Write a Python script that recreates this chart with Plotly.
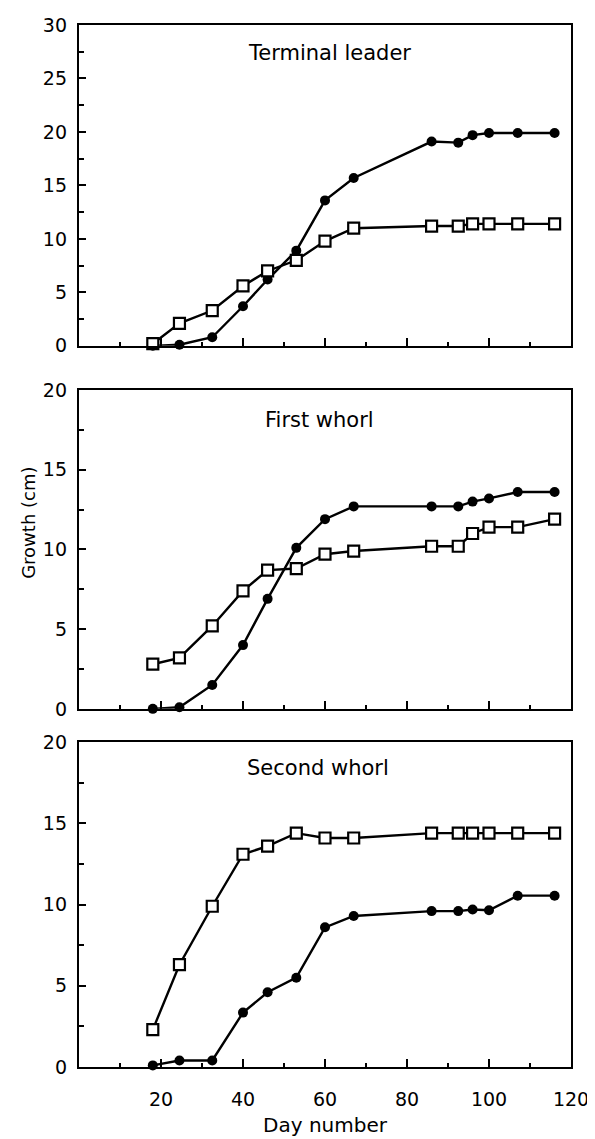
import plotly.graph_objects as go

# ---- data ----
days = [18, 24.5, 32.5, 40, 46, 53, 60, 67, 86, 92.5, 96, 100, 107, 116]

leader_filled = [0, 0.1, 0.8, 3.7, 6.2, 8.9, 13.6, 15.7, 19.1, 19.0, 19.7, 19.9, 19.9, 19.9]
leader_open = [0.2, 2.1, 3.3, 5.6, 7.0, 8.0, 9.8, 11.0, 11.2, 11.2, 11.4, 11.4, 11.4, 11.4]

first_filled = [0, 0.1, 1.5, 4.0, 6.9, 10.1, 11.9, 12.7, 12.7, 12.7, 13.0, 13.2, 13.6, 13.6]
first_open = [2.8, 3.2, 5.2, 7.4, 8.7, 8.8, 9.7, 9.9, 10.2, 10.2, 11.0, 11.4, 11.4, 11.9]

second_filled = [0.1, 0.4, 0.4, 3.35, 4.6, 5.5, 8.6, 9.3, 9.6, 9.6, 9.7, 9.65, 10.55, 10.55]
second_open = [2.3, 6.3, 9.9, 13.1, 13.6, 14.4, 14.1, 14.1, 14.4, 14.4, 14.4, 14.4, 14.4, 14.4]

panel_titles = ["Terminal leader", "First whorl", "Second whorl"]
y_max = [30, 20, 20]
x_ticks = [20, 40, 60, 80, 100, 120]

FONT = "DejaVu Sans"
TICK_SIZE = 19
panels = [(leader_filled, leader_open), (first_filled, first_open), (second_filled, second_open)]
domains = [[0.6921, 1.0], [0.3437, 0.6497], [0.0, 0.3117]]
title_pos = [(61, 27.4), (58.7, 18.1), (58.4, 18.4)]

fig = go.Figure()
for i, (filled, opened) in enumerate(panels):
    xa = "x" if i == 0 else f"x{i+1}"
    ya = "y" if i == 0 else f"y{i+1}"
    fig.add_trace(go.Scatter(
        x=days, y=filled, xaxis=xa, yaxis=ya, mode="lines+markers",
        line=dict(color="black", width=2.4),
        marker=dict(symbol="circle", size=10, color="black"),
        cliponaxis=False, showlegend=False))
    fig.add_trace(go.Scatter(
        x=days, y=opened, xaxis=xa, yaxis=ya, mode="lines+markers",
        line=dict(color="black", width=2.4),
        marker=dict(symbol="square", size=11, color="white",
                    line=dict(color="black", width=2.2)),
        cliponaxis=False, showlegend=False))

# page body has an 8px default margin, so the figure is sized to fit inside it
layout = dict(
    width=587, height=1131,
    margin=dict(l=71, r=17, t=6, b=63),
    paper_bgcolor="white", plot_bgcolor="white",
    font=dict(family=FONT, size=TICK_SIZE, color="black"),
)
for i in range(3):
    xk = "xaxis" if i == 0 else f"xaxis{i+1}"
    yk = "yaxis" if i == 0 else f"yaxis{i+1}"
    ya = "y" if i == 0 else f"y{i+1}"
    xa = "x" if i == 0 else f"x{i+1}"
    layout[xk] = dict(
        domain=[0, 1], anchor=ya, range=[0, 120],
        tickvals=x_ticks, ticks="inside", ticklen=8, tickwidth=1.8, tickcolor="black",
        minor=dict(dtick=10, tick0=0, ticks="inside", ticklen=4, tickwidth=1.8, tickcolor="black"),
        showticklabels=(i == 2), ticklabelstandoff=14, ticklabeloverflow="allow",
        showline=True, linecolor="black", linewidth=2.4, mirror=True,
        showgrid=False, zeroline=False,
        tickfont=dict(family=FONT, size=TICK_SIZE, color="black"),
    )
    layout[yk] = dict(
        domain=domains[i], anchor=xa, range=[0, y_max[i]],
        tickvals=list(range(0, y_max[i] + 1, 5)),
        ticks="inside", ticklen=7, tickwidth=1.8, tickcolor="black",
        minor=dict(dtick=2.5, tick0=0, ticks="inside", ticklen=5, tickwidth=1.8, tickcolor="black"),
        ticklabelstandoff=6,
        showline=True, linecolor="black", linewidth=2.4, mirror=True,
        showgrid=False, zeroline=False,
        tickfont=dict(family=FONT, size=TICK_SIZE, color="black"),
    )
layout["xaxis3"]["title"] = dict(text="Day number", font=dict(family=FONT, size=20), standoff=9)
fig.update_layout(**layout)

for i, t in enumerate(panel_titles):
    xa = "x" if i == 0 else f"x{i+1}"
    ya = "y" if i == 0 else f"y{i+1}"
    fig.add_annotation(text=t, x=title_pos[i][0], y=title_pos[i][1], xref=xa, yref=ya,
                       showarrow=False, font=dict(family=FONT, size=21, color="black"))

fig.add_annotation(text="Growth (cm)", textangle=-90,
                   x=(15 - 79) / 499, y=(1076 - 521) / 1062,
                   xref="paper", yref="paper", showarrow=False,
                   font=dict(family=FONT, size=18, color="black"))

fig.write_html("out.html")
